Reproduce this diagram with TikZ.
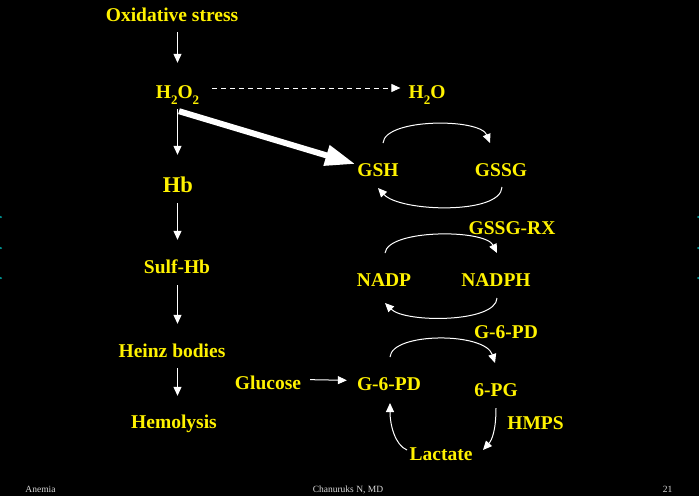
\documentclass[tikz,border=0pt]{standalone}
\usepackage{fontspec}
\setmainfont{Liberation Serif}
\usetikzlibrary{arrows.meta}
\begin{document}
\begin{tikzpicture}[x=1pt,y=-1pt,
  lbl/.style={text=yellow,font=\fontsize{19.5}{20}\selectfont\bfseries,inner sep=0pt,anchor=base,text height=14pt,text depth=4pt},
  biglbl/.style={lbl,font=\fontsize{22.5}{23}\selectfont\bfseries,text height=16pt},
  foot/.style={text=white!85!black,font=\fontsize{9.5}{10}\selectfont,inner sep=0pt,anchor=base},
  arr/.style={draw=white,line width=1pt,-{Triangle[length=9pt,width=8pt]}},
  dasharr/.style={arr,dash pattern=on 5pt off 4pt},
  fatarr/.style={draw=white,line width=6pt,-{Triangle[length=30pt,width=20pt]}},
  tealdot/.style={fill=teal!80!cyan,draw=none}
]
\fill[black] (0,0) rectangle (699,496);
\useasboundingbox (0,0) rectangle (699,496);

% nodes
\node[lbl] (ox) at (172,21) {Oxidative stress};
\node[lbl] (h2o2) at (177.5,98) {H\raisebox{-6pt}{\fontsize{13}{13}\selectfont 2}O\raisebox{-6pt}{\fontsize{13}{13}\selectfont 2}};
\node[lbl] (h2o) at (427,98) {H\raisebox{-6pt}{\fontsize{13}{13}\selectfont 2}O};
\node[biglbl] (hb) at (178,192) {Hb};
\node[lbl] (sulf) at (177,273) {Sulf-Hb};
\node[lbl] (heinz) at (172,357) {Heinz bodies};
\node[lbl] (hemo) at (174,428) {Hemolysis};
\node[lbl] (glu) at (268,389) {Glucose};
\node[lbl] (gsh) at (378,176) {GSH};
\node[lbl] (gssg) at (501,176) {GSSG};
\node[lbl] (gssgrx) at (512,234) {GSSG-RX};
\node[lbl] (nadp) at (384,286) {NADP};
\node[lbl] (nadph) at (496,286) {NADPH};
\node[lbl] (g6pdu) at (506,338) {G-6-PD};
\node[lbl] (g6pd) at (389,390) {G-6-PD};
\node[lbl] (pg) at (496,396) {6-PG};
\node[lbl] (hmps) at (535.5,429) {HMPS};
\node[lbl] (lac) at (441,460) {Lactate};

% left column arrows
\draw[arr,shorten <=7pt,shorten >=21pt] (h2o2 |- ox.south) -- (h2o2.north);
\draw[arr,shorten <=7pt,shorten >=21pt] (h2o2.south) -- (h2o2.south |- hb.north);
\draw[arr,shorten <=7pt,shorten >=19pt] (h2o2.south |- hb.south) -- (h2o2.south |- sulf.north);
\draw[arr,shorten <=8pt,shorten >=19pt] (h2o2.south |- sulf.south) -- (h2o2.south |- heinz.north);
\draw[arr,shorten <=7pt,shorten >=18pt] (h2o2.south |- heinz.south) -- (h2o2.south |- hemo.north);

% dashed H2O2 -> H2O
\draw[dasharr,shorten <=13pt,shorten >=8pt] ([yshift=5pt]h2o2.east) -- ([yshift=5pt]h2o.west);

% thick arrow H2O2 -> GSH
\draw[fatarr] ([shift={(1.5pt,-9pt)}]h2o2.south) -- ([shift={(-2pt,7pt)}]gsh.west);

% Glucose -> G-6-PD
\draw[arr,shorten <=9pt,shorten >=10pt] ([yshift=4.5pt]glu.east) -- ([yshift=4.5pt]g6pd.west);

% GSH / GSSG cycle
\coordinate (c1a) at (383,143); \coordinate (c1b) at (490,143);
\coordinate (c2a) at (502,187); \coordinate (c2b) at (378,188);
\draw[arr] (c1a) .. controls (385,118) and (480,118) .. (c1b);
\draw[arr] (c2a) .. controls (501,215) and (400,212) .. (c2b);

% NADP / NADPH cycle
\coordinate (c3a) at (385,253); \coordinate (c3b) at (497,253);
\coordinate (c4a) at (497,298); \coordinate (c4b) at (385,303);
\draw[arr] (c3a) .. controls (388,229) and (485,229) .. (c3b);
\draw[arr] (c4a) .. controls (496,323) and (405,323) .. (c4b);

% G-6-PD -> 6-PG
\coordinate (c5a) at (390,357); \coordinate (c5b) at (495,363);
\draw[arr] (c5a) .. controls (392,332) and (485,332) .. (c5b);

% 6-PG -> Lactate -> G-6-PD
\coordinate (c6a) at (496,408); \coordinate (c6b) at (483,450);
\draw[arr] (c6a) .. controls (496,430) and (492,440) .. (c6b);
\coordinate (c7a) at (407,450); \coordinate (c7b) at (390,403);
\draw[arr] (c7a) .. controls (395,445) and (390,425) .. (c7b);

% footer
\node[foot] (f1) at (40.5,492) {Anemia};
\node[foot] (f2) at (348,492) {Chanuruks N, MD};
\node[foot] (f3) at (667.5,492) {21};

% edge dots
\foreach \yy in {217,248,278}{
  \fill[tealdot] (0.8,\yy) circle (1.2);
  \fill[tealdot] (698.2,\yy) circle (1.2);
}
\end{tikzpicture}
\end{document}
